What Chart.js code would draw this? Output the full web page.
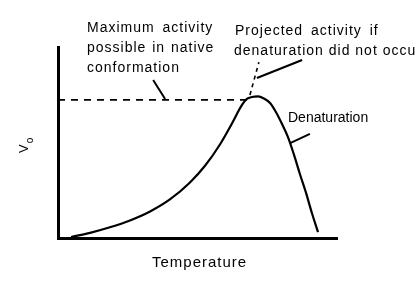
<!DOCTYPE html>
<html lang="en">
<head>
    <meta charset="UTF-8">
    <title>Enzyme activity vs temperature</title>
    <style>
        body { margin: 0; background: #fff; }
        #wrap { width: 416px; height: 281px; }
    </style>
</head>
<body>
    <div id="wrap">
        <canvas id="myChart" width="416" height="281"></canvas>
    </div>
    <script src="https://cdn.jsdelivr.net/npm/chart.js"></script>
    <script>

    // measured curve (temperature, Vo) in arbitrary units 0..100
    const temps = [4.7, 11.5, 18.6, 25.8, 33.0, 40.1, 47.3, 52.7, 58.1, 62.4, 66.0, 67.7, 69.5, 71.7,
                   73.8, 76.0, 78.1, 80.3, 82.4, 84.6, 86.7, 88.9, 91.0, 93.2];
    const vo    = [0.5, 2.7, 5.6, 9.2, 13.9, 20.2, 29.1, 37.8, 49.1, 60.1, 69.8, 72.8, 73.8, 74.1,
                   73.0, 70.7, 66.0, 59.7, 52.9, 43.5, 33.5, 23.6, 13.1, 3.1];

    // dashed guides
    const maxLineX = [0, 67.7];
    const maxLineY = [72.3, 72.3];
    const projX = [68.8, 72.0];
    const projY = [74.9, 92.0];

    // label pointers
    const ptr1X = [34.1, 38.4], ptr1Y = [82.7, 72.8];
    const ptr2X = [71.3, 87.5], ptr2Y = [83.8, 93.2];
    const ptr3X = [83.2, 90.3], ptr3Y = [49.7, 54.5];

    function pts(xs, ys) {
        return xs.map((x, i) => ({ x: x, y: ys[i] }));
    }

    const font = '"Liberation Sans", Arial, Helvetica, sans-serif';

    const labelsPlugin = {
        id: 'labels',
        afterDraw(chart) {
            const c = chart.ctx;
            c.save();
            c.fillStyle = '#000';
            c.textBaseline = 'alphabetic';
            c.font = '14px ' + font;
            c.letterSpacing = '1px';
            c.wordSpacing = '3px';
            c.fillText('Maximum activity', 87, 32);
            c.wordSpacing = '1px';
            c.fillText('possible in native', 87, 52);
            c.fillText('conformation', 87, 72);
            c.wordSpacing = '3px';
            c.fillText('Projected activity if', 235, 35);
            c.wordSpacing = '0px';
            c.fillText('denaturation did not occur', 234, 55);
            c.letterSpacing = '0px';
            c.fillText('Denaturation', 288, 122);
            c.font = '15px ' + font;
            c.letterSpacing = '1px';
            c.fillText('Temperature', 152, 267);
            c.letterSpacing = '0px';

            // y title: V with subscript o, rotated
            c.translate(28, 153);
            c.rotate(-Math.PI / 2);
            c.font = '13px ' + font;
            c.fillText('V', 0, 0);
            const w = c.measureText('V').width;
            c.font = '10px ' + font;
            c.fillText('o', w + 1, 5);
            c.restore();
        }
    };

    const ctx = document.getElementById('myChart');

    const myChart = new Chart(ctx, {
        type: 'line',
        data: {
            datasets: [
                {
                    data: pts(temps, vo),
                    borderColor: '#000',
                    borderWidth: 2.2,
                    pointRadius: 0,
                    cubicInterpolationMode: 'monotone'
                },
                {
                    data: pts(maxLineX, maxLineY),
                    borderColor: '#000',
                    borderWidth: 1.8,
                    borderDash: [7, 6],
                    pointRadius: 0
                },
                {
                    data: pts(projX, projY),
                    borderColor: '#000',
                    borderWidth: 1.6,
                    borderDash: [4, 4],
                    pointRadius: 0
                },
                { data: pts(ptr1X, ptr1Y), borderColor: '#000', borderWidth: 2, pointRadius: 0 },
                { data: pts(ptr2X, ptr2Y), borderColor: '#000', borderWidth: 2.2, pointRadius: 0 },
                { data: pts(ptr3X, ptr3Y), borderColor: '#000', borderWidth: 2, pointRadius: 0 }
            ]
        },
        options: {
            responsive: false,
            animation: false,
            events: [],
            layout: { padding: { left: 50, top: 47, right: 79, bottom: 35 } },
            plugins: {
                legend: { display: false },
                tooltip: { enabled: false }
            },
            scales: {
                x: {
                    type: 'linear',
                    min: 0,
                    max: 100,
                    ticks: { display: false },
                    grid: { display: false },
                    border: { display: true, color: '#000', width: 3 }
                },
                y: {
                    min: 0,
                    max: 100,
                    ticks: { display: false },
                    grid: { display: false },
                    border: { display: true, color: '#000', width: 3 }
                }
            }
        },
        plugins: [labelsPlugin]
    });

    </script>
</body>
</html>
